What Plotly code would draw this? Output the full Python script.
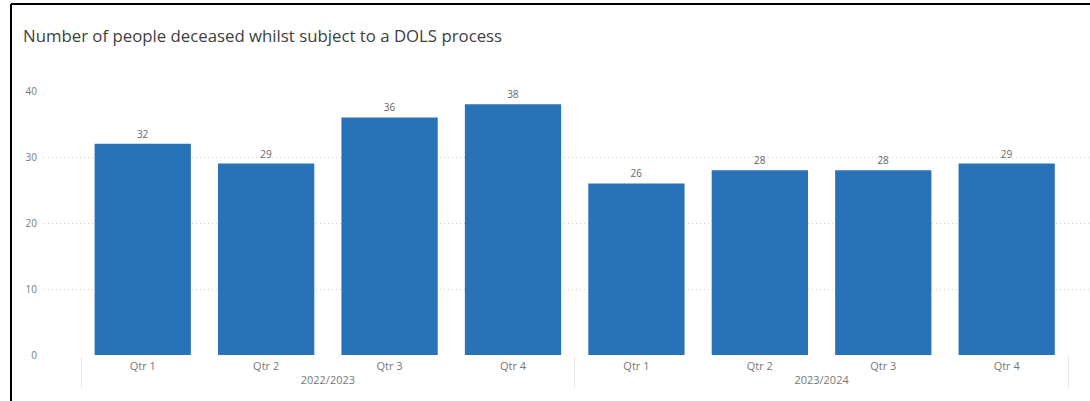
import plotly.graph_objects as go

years = ["2022/2023"] * 4 + ["2023/2024"] * 4
quarters = ["Qtr 1", "Qtr 2", "Qtr 3", "Qtr 4"] * 2
deceased = [32, 29, 36, 38, 26, 28, 28, 29]
title_text = "Number of people deceased whilst subject to a DOLS process"

W, H = 1090, 401
L, R, T, B = 44, 0, 91, 46

fig = go.Figure()
fig.add_trace(go.Bar(
    x=[years, quarters], y=deceased,
    marker=dict(color="#2872B8", line=dict(width=0)),
    width=0.78,
    text=[str(v) for v in deceased], textposition="outside",
    textfont=dict(family="Open Sans, sans-serif", size=10, color="#666666"),
    cliponaxis=False,
))

pw = W - L - R
ph = H - T - B
fig.update_layout(
    width=W, height=H,
    margin=dict(l=L, r=R, t=T, b=B),
    paper_bgcolor="white", plot_bgcolor="white",
    showlegend=False,
    title=dict(text=title_text, xref="container", x=23 / W, xanchor="left",
               yref="container", y=1 - 36 / H, yanchor="middle",
               font=dict(family="Open Sans, sans-serif", size=16.8, color="#404040")),
    xaxis=dict(type="multicategory", range=[-0.80, 7.675],
               showgrid=False, zeroline=False, showline=False,
               tickfont=dict(family="Open Sans, sans-serif", size=11, color="#777777"),
               ticklabelstandoff=3,
               dividercolor="#e6e6e6", dividerwidth=1, showdividers=True),
    yaxis=dict(range=[0, 40], tickvals=[0, 10, 20, 30, 40],
               showgrid=True, gridcolor="#cfcfcf", griddash="1px,3px", gridwidth=1,
               zeroline=False, showline=False, ticks="",
               tickfont=dict(family="Open Sans, sans-serif", size=10, color="#777777"),
               ticklabelstandoff=6),
    bargap=0.22,
)

# frame border (top and left) as in the screenshot
fig.add_shape(type="line", xref="paper", yref="paper",
              x0=(11 - L) / pw, x1=(W + 5 - L) / pw,
              y0=(H - B - 4) / ph, y1=(H - B - 4) / ph,
              line=dict(color="black", width=2))
fig.add_shape(type="line", xref="paper", yref="paper",
              x0=(11 - L) / pw, x1=(11 - L) / pw,
              y0=(H - B - 4) / ph, y1=(-B - 5) / ph,
              line=dict(color="black", width=2))

fig.write_html("out.html", config={"displayModeBar": False},
               post_script="document.body.style.margin='0';document.body.style.overflow='hidden';")
